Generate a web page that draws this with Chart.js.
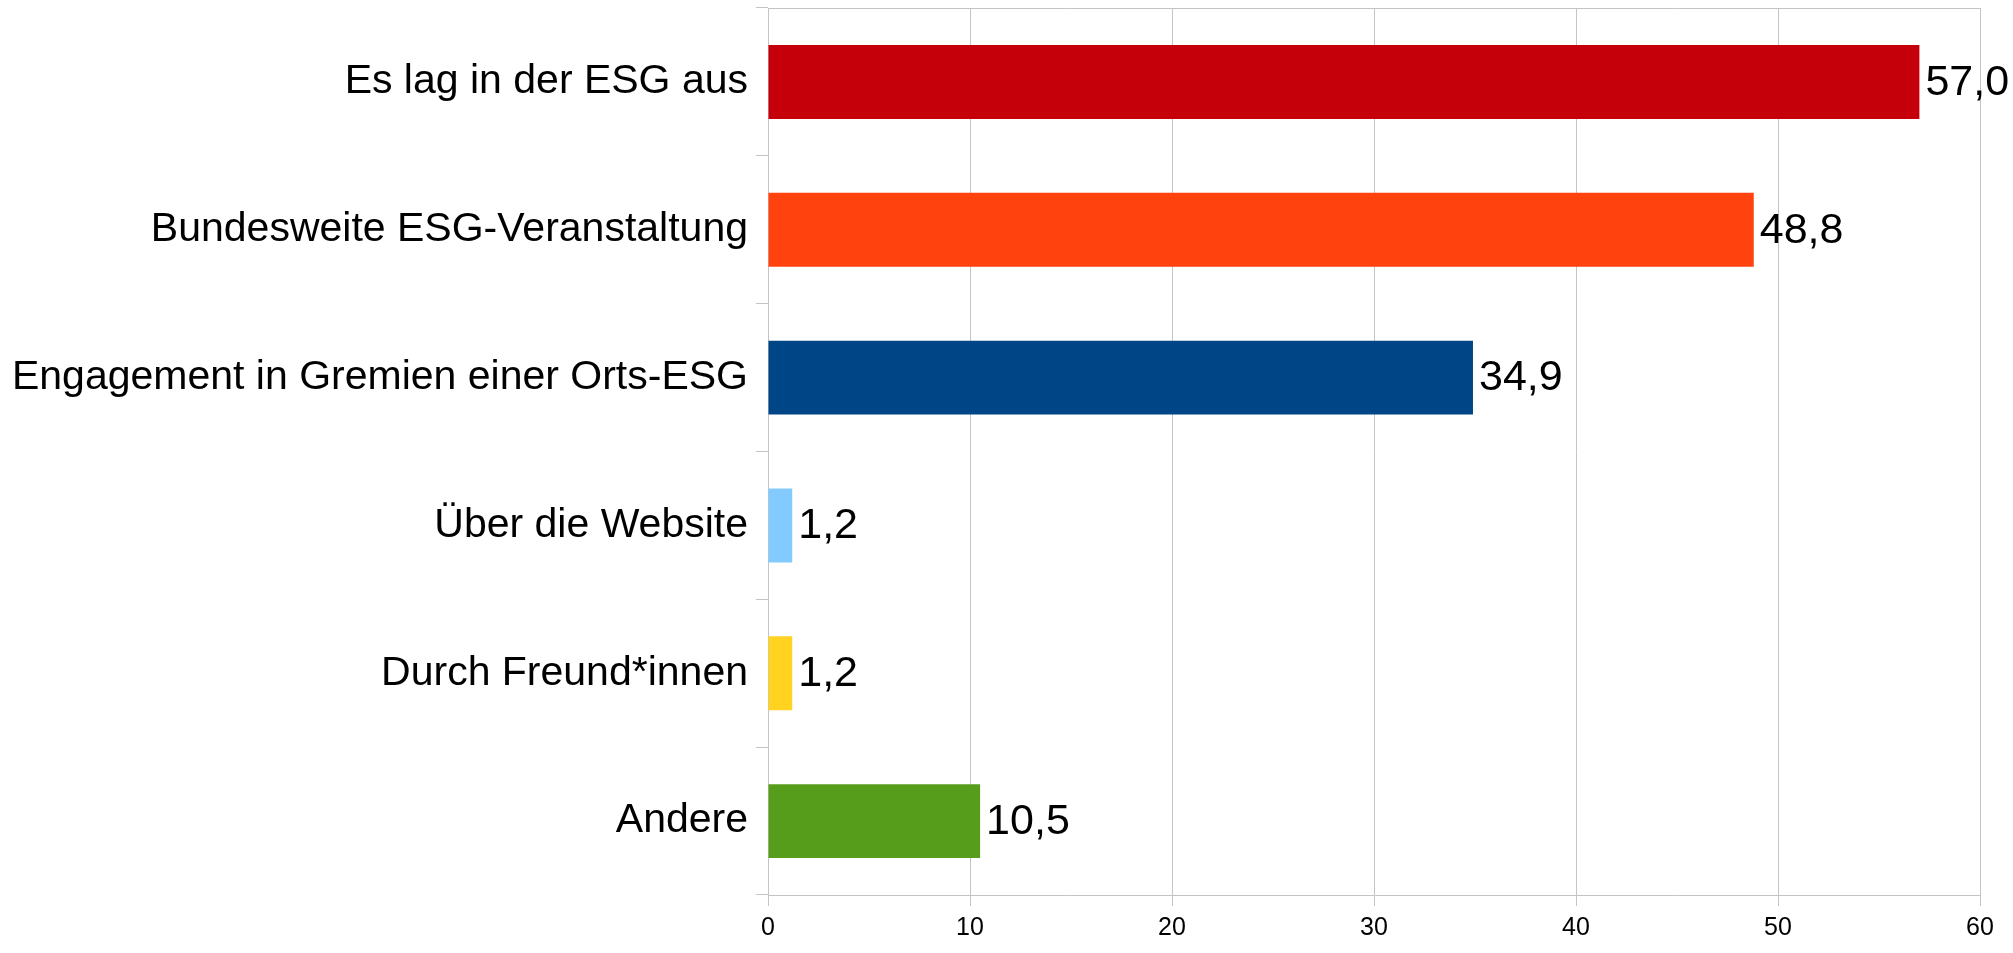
<!DOCTYPE html>
<html>
<head>
<meta charset="utf-8">
<script src="https://cdn.jsdelivr.net/npm/chart.js@4"></script>
<style>
  html, body { margin: 0; padding: 0; background: #fff; }
  #wrap { width: 2013px; height: 953px; }
</style>
</head>
<body>
<div id="wrap"><canvas id="chart"></canvas></div>
<script>
// Data
const categories = [
    'Es lag in der ESG aus',
    'Bundesweite ESG-Veranstaltung',
    'Engagement in Gremien einer Orts-ESG',
    'Über die Website',
    'Durch Freund*innen',
    'Andere'
];
const values = [57.0, 48.8, 34.9, 1.2, 1.2, 10.5];
const barColors = ['#c5000b', '#ff420e', '#004586', '#83caff', '#ffd320', '#579d1c'];
const xTicks = [0, 10, 20, 30, 40, 50, 60];

const FONT = "'Liberation Sans', Arial, sans-serif";
const GRID = '#c4c4c4';

// Value labels next to each bar
const valueLabels = {
    id: 'valueLabels',
    afterDatasetsDraw(chart) {
        const ctx = chart.ctx;
        const meta = chart.getDatasetMeta(0);
        ctx.save();
        ctx.font = '43px ' + FONT;
        ctx.fillStyle = '#000';
        ctx.textAlign = 'left';
        ctx.textBaseline = 'middle';
        meta.data.forEach((bar, i) => {
            const txt = values[i].toFixed(1).replace('.', ',');
            ctx.fillText(txt, bar.x + 6, bar.y + 1);
        });
        ctx.restore();
    }
};

new Chart(document.getElementById('chart'), {
    type: 'bar',
    data: {
        labels: categories,
        datasets: [{
            data: values,
            backgroundColor: barColors,
            barPercentage: 0.5,
            categoryPercentage: 1.0
        }]
    },
    options: {
        indexAxis: 'y',
        responsive: true,
        maintainAspectRatio: false,
        animation: false,
        layout: { padding: { left: 3, right: 33, top: 8, bottom: 0 } },
        plugins: {
            legend: { display: false },
            tooltip: { enabled: false }
        },
        scales: {
            x: {
                min: 0,
                max: 60,
                afterBuildTicks: (s) => { s.ticks = xTicks.map(v => ({ value: v })); },
                afterFit: (s) => { s.height = 58; },
                grid: { color: GRID, lineWidth: 1, tickLength: 11, drawTicks: true },
                border: { color: GRID, width: 1 },
                ticks: {
                    color: '#000',
                    font: { family: FONT, size: 25 },
                    padding: 7
                }
            },
            x2: {
                position: 'top',
                min: 0,
                max: 60,
                afterFit: (s) => { s.height = 0; s.paddingLeft = 0; s.paddingRight = 0; },
                grid: { display: false },
                border: { color: GRID, width: 1 },
                ticks: { display: false }
            },
            y: {
                offset: true,
                afterFit: (s) => { s.width = 765; s.paddingTop = 0; s.paddingBottom = 0; },
                grid: { offset: true, drawOnChartArea: false, color: GRID, tickLength: 12 },
                border: { color: GRID, width: 1 },
                ticks: {
                    color: '#000',
                    font: { family: FONT, size: 41 },
                    padding: 8
                }
            }
        }
    },
    plugins: [valueLabels]
});
</script>
</body>
</html>
